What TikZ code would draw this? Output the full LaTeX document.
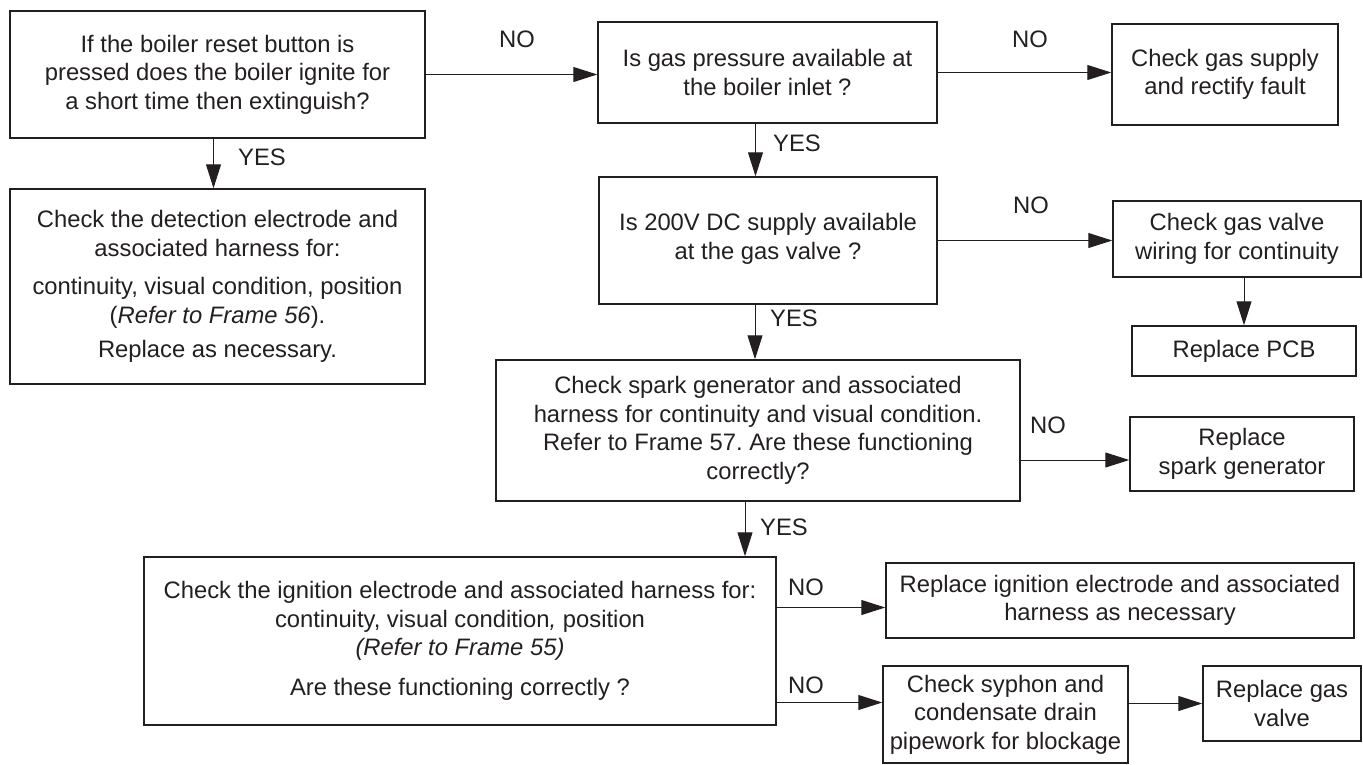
\documentclass[tikz,border=0pt]{standalone}
\usepackage{fontspec}
\setmainfont{Liberation Sans}
\usetikzlibrary{arrows.meta}
\frenchspacing
\definecolor{ink}{HTML}{231F20}
\newcommand\flowfont{\fontsize{23.8}{28.5}\selectfont}
\tikzset{fc/.style={x=1pt,y=-1pt,line width=1pt,font=\flowfont,ink},
  bx/.style={draw,line width=1.5pt,align=center,inner sep=0pt},
  ar/.style={-{Triangle[length=24pt,width=15pt]}}}

\begin{document}
\begin{tikzpicture}[fc]
  \useasboundingbox (0,0) rectangle (1363,764);
  % left column
  \node[bx,minimum width=415pt,minimum height=127pt] (reset) at (217.5,74.5){If the boiler reset button is\\pressed does the boiler ignite for\\a short time then extinguish?};
  \node[bx,minimum width=415pt,minimum height=195pt] (detect) at (217.5,286.5){Check the detection electrode and\\associated harness for:\\[10pt]continuity, visual condition, position\\(\textit{Refer to Frame 56}).\\[6pt]Replace as necessary.};
  % middle column
  \node[bx,minimum width=339pt,minimum height=101pt] (gasp) at (767.5,72.5){Is gas pressure available at\\the boiler inlet ?};
  \node[bx,minimum width=338pt,minimum height=127pt] (dcv) at (768,240.5){Is 200V DC supply available\\at the gas valve ?\\[-20pt]};
  \node[bx,minimum width=524pt,minimum height=141pt] (spark) at (758,430.5){Check spark generator and associated\\harness for continuity and visual condition.\\Refer to Frame 57. Are these functioning\\correctly?};
  \node[bx,minimum width=632pt,minimum height=168pt] (ignit) at (460,641){Check the ignition electrode and associated harness for:\\continuity, visual condition\textit{,} position\\\textit{(Refer to Frame 55)}\\[11pt]Are these functioning correctly ?};
  % right column
  \node[bx,minimum width=226pt,minimum height=101pt] (gsup) at (1225,74.5){Check gas supply\\and rectify fault};
  \node[bx,minimum width=248pt,minimum height=76pt] (vwire) at (1237,239){Check gas valve\\wiring for continuity};
  \node[bx,minimum width=224pt,minimum height=50pt] (pcb) at (1244,351){Replace PCB};
  \node[bx,minimum width=224pt,minimum height=74pt] (rspark) at (1242,454){Replace\\spark generator};
  \node[bx,minimum width=468pt,minimum height=75pt] (rign) at (1120,600.5){Replace ignition electrode and associated\\harness as necessary};
  \node[bx,minimum width=245pt,minimum height=97pt] (syph) at (1005.5,714.5){Check syphon and\\condensate drain\\pipework for blockage};
  \node[bx,minimum width=158pt,minimum height=75pt] (rvalve) at (1282,703.5){Replace gas\\valve};
  % connectors
  \draw[ar] (reset.east)--(reset.east -| gasp.west);\node (no1) at (517,39){NO};
  \draw[ar] ([xshift=-4pt]reset.south)--([xshift=-4pt]reset.south |- detect.north);\node (yes1) at (262,157){YES};
  \draw[ar] (gasp.east)--(gasp.east -| gsup.west);\node (no2) at (1030,39){NO};
  \draw[ar] ([xshift=-12pt]gasp.south)--([xshift=-12pt]gasp.south |- dcv.north);\node (yes2) at (797,143){YES};
  \draw[ar] (dcv.east)--(dcv.east -| vwire.west);\node (no3) at (1031,205){NO};
  \draw[ar] (vwire.south -| pcb.north)--(pcb.north);
  \draw[ar] ([xshift=-13pt]dcv.south)--([xshift=-13pt]dcv.south |- spark.north);\node (yes3) at (794,318){YES};
  \draw[ar] ([yshift=-6pt]rspark.west -| spark.east)--([yshift=-6pt]rspark.west);\node (no4) at (1048,425){NO};
  \draw[ar] ([xshift=-13pt]spark.south)--([xshift=-13pt]spark.south |- ignit.north);\node (yes4) at (784,527){YES};
  \draw[ar] ([yshift=-7pt]rign.west -| ignit.east)--([yshift=-7pt]rign.west);\node (no5) at (806,587){NO};
  \draw[ar] ([yshift=12pt]syph.west -| ignit.east)--([yshift=12pt]syph.west);\node (no6) at (806,685){NO};
  \draw[ar] (rvalve.west -| syph.east)--(rvalve.west);
\end{tikzpicture}
\end{document}
